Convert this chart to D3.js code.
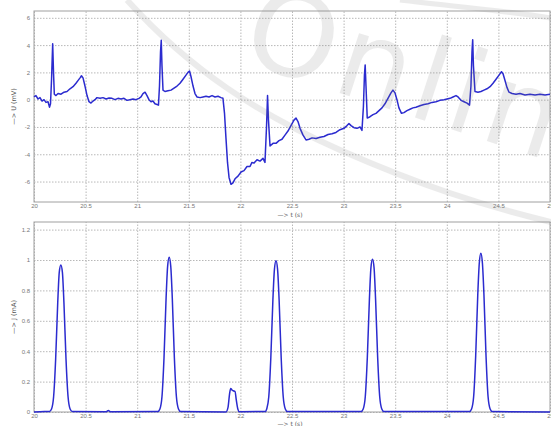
<!DOCTYPE html>
<html>
<head>
<meta charset="utf-8">
<script src="https://cdn.jsdelivr.net/npm/d3@7"></script>
<style>
  body { margin: 0; background: #fff; }
  svg { display: block; font-family: "DejaVu Sans", sans-serif; }
  .grid line { stroke: #b8b8b8; stroke-dasharray: 1.5,1.5; }
  .grid path { stroke: none; }
  .lbl text { font-size: 6px; fill: #777; }
  .lbl line, .lbl path { stroke: none; }
</style>
</head>
<body>
<svg id="chart" width="551" height="426"></svg>
<script>
// tick labels
var tTicks = [20, 20.5, 21, 21.5, 22, 22.5, 23, 23.5, 24, 24.5, 25]
var uTicks = [-6, -4, -2, 0, 2, 4, 6]
var jTicks = [0, 0.2, 0.4, 0.6, 0.8, 1, 1.2]

// top trace: U (mV) against t (s)
var ecgT = [20.000,20.019,20.039,20.058,20.078,20.097,20.116,20.136,20.150,20.160,20.170,20.181,20.189,20.197,
  20.213,20.233,20.262,20.291,20.320,20.349,20.378,20.407,20.426,20.446,20.460,20.475,20.494,20.514,20.533,
  20.552,20.572,20.591,20.610,20.640,20.669,20.698,20.727,20.756,20.785,20.814,20.843,20.872,20.901,20.930,
  20.959,20.988,21.017,21.037,21.056,21.076,21.095,21.114,21.134,21.153,21.172,21.192,21.206,21.216,21.226,
  21.233,21.240,21.250,21.269,21.298,21.328,21.357,21.386,21.415,21.444,21.473,21.492,21.507,21.521,21.541,
  21.560,21.579,21.609,21.638,21.667,21.696,21.725,21.754,21.783,21.812,21.831,21.846,21.860,21.875,21.890,
  21.909,21.928,21.948,21.977,22.006,22.035,22.064,22.093,22.112,22.132,22.161,22.190,22.219,22.238,22.253,
  22.263,22.272,22.287,22.316,22.345,22.374,22.403,22.432,22.461,22.490,22.519,22.539,22.558,22.578,22.607,
  22.636,22.665,22.694,22.733,22.771,22.810,22.849,22.888,22.926,22.965,23.004,23.033,23.052,23.072,23.101,
  23.130,23.159,23.178,23.192,23.202,23.209,23.217,23.229,23.256,23.285,23.314,23.343,23.372,23.401,23.430,
  23.459,23.478,23.498,23.517,23.536,23.561,23.585,23.614,23.643,23.672,23.701,23.740,23.779,23.818,23.857,
  23.895,23.934,23.973,24.002,24.031,24.060,24.089,24.109,24.138,24.167,24.196,24.220,24.234,24.244,24.251,
  24.258,24.273,24.302,24.331,24.360,24.389,24.419,24.448,24.477,24.506,24.530,24.545,24.564,24.583,24.603,
  24.632,24.671,24.709,24.758,24.806,24.855,24.903,24.952,25.000]
var ecgU = [0.2,0.3,0.05,0.15,-0.1,0.0,-0.2,-0.15,-0.55,-0.3,1.5,4.1,2.0,0.4,
  0.3,0.45,0.4,0.55,0.6,0.8,0.95,1.2,1.4,1.6,1.75,1.6,1.0,0.3,-0.15,
  -0.25,-0.1,0.0,0.15,0.1,0.15,0.05,0.12,0.1,0.0,0.1,0.05,0.1,-0.05,0.0,
  0.05,0.0,0.1,0.2,0.45,0.55,0.3,0.0,-0.15,-0.1,-0.3,-0.35,-0.4,1.0,3.5,
  4.35,2.5,0.7,0.6,0.65,0.7,0.85,1.0,1.2,1.5,1.8,2.0,2.1,1.7,1.0,
  0.45,0.2,0.15,0.2,0.25,0.2,0.3,0.2,0.25,0.15,0.1,-1.0,-2.8,-4.6,-5.7,
  -6.2,-6.1,-5.8,-5.6,-5.3,-5.2,-4.9,-4.9,-4.6,-4.65,-4.4,-4.5,-4.3,-4.6,-2.0,
  0.3,-1.5,-3.4,-3.2,-3.2,-3.0,-2.9,-2.6,-2.3,-1.9,-1.5,-1.35,-1.6,-2.1,-2.6,
  -2.95,-2.9,-2.8,-2.85,-2.75,-2.7,-2.55,-2.5,-2.4,-2.2,-2.1,-1.9,-1.75,-1.9,-2.05,
  -2.1,-2.0,-2.25,-0.5,1.8,2.55,1.0,-1.35,-1.25,-1.1,-1.0,-0.8,-0.6,-0.3,0.1,
  0.5,0.7,0.5,0.0,-0.6,-1.0,-0.95,-0.8,-0.7,-0.6,-0.55,-0.45,-0.35,-0.3,-0.2,
  -0.15,-0.05,0.0,0.05,0.1,0.2,0.3,0.2,-0.05,-0.15,-0.25,-0.4,1.0,3.5,4.4,
  2.5,0.6,0.55,0.6,0.7,0.8,0.95,1.2,1.5,1.8,2.05,1.9,1.4,0.9,0.55,
  0.45,0.4,0.45,0.35,0.4,0.35,0.4,0.35,0.4]

// bottom trace: J against t (s)
var jT = [20.00,20.10,20.15,20.17,20.19,20.21,20.23,20.245,20.26,20.275,20.29,20.31,20.33,20.35,20.37,
  20.70,20.72,20.74,
  21.20,21.22,21.24,21.26,21.28,21.295,21.31,21.325,21.34,21.36,21.38,21.40,21.42,
  21.86,21.88,21.895,21.906,21.918,21.93,21.948,21.96,21.975,21.99,
  22.24,22.255,22.275,22.295,22.315,22.33,22.345,22.36,22.375,22.395,22.415,22.435,22.455,
  23.17,23.19,23.21,23.23,23.25,23.265,23.28,23.295,23.31,23.33,23.35,23.37,23.39,
  24.22,24.24,24.26,24.28,24.30,24.315,24.33,24.345,24.36,24.38,24.40,24.42,24.44,
  25.00]
var jV = [0,0.003,0.004,0.02,0.1,0.35,0.72,0.92,0.967,0.92,0.72,0.35,0.1,0.02,0.004,
  0.002,0.01,0.002,
  0.003,0.02,0.1,0.36,0.75,0.96,1.018,0.96,0.75,0.36,0.1,0.02,0.003,
  0.0,0.03,0.12,0.155,0.145,0.14,0.135,0.08,0.02,0.002,
  0.003,0.02,0.1,0.36,0.74,0.94,0.995,0.94,0.74,0.36,0.1,0.02,0.003,
  0.003,0.02,0.1,0.36,0.74,0.95,1.005,0.95,0.74,0.36,0.1,0.02,0.003,
  0.003,0.02,0.1,0.37,0.77,0.98,1.044,0.98,0.77,0.37,0.1,0.02,0.003,
  0.0]

var svg = d3.select("#chart")
var lineColor = "#2b2bcf"
var left = 34, right = 550

var x = d3.scaleLinear().domain([20, 25]).range([left, right])
var yU = d3.scaleLinear().domain([-7.5, 6.5]).range([202, 11])
var yJ = d3.scaleLinear().domain([0, 1.25]).range([412, 222])

function fmt(d) { return String(d) }

function panel(y, yTicks, yLabel, top, bottom, labelGap) {
    var g = svg.append("g")
    var h = bottom - top

    // grid
    g.append("g").attr("class", "grid")
        .attr("transform", "translate(0," + bottom + ")")
        .call(d3.axisBottom(x).tickValues(tTicks).tickSize(-h).tickFormat(""))
    g.append("g").attr("class", "grid")
        .attr("transform", "translate(" + left + ",0)")
        .call(d3.axisLeft(y).tickValues(yTicks).tickSize(-(right - left)).tickFormat(""))

    // box
    g.append("rect")
        .attr("x", left).attr("y", top)
        .attr("width", right - left).attr("height", h)
        .attr("fill", "none").attr("stroke", "#a0a0a0").attr("stroke-width", 1)

    // tick labels
    g.append("g").attr("class", "lbl")
        .attr("transform", "translate(0," + bottom + ")")
        .call(d3.axisBottom(x).tickValues(tTicks).tickSize(0).tickPadding(2).tickFormat(fmt))
    g.append("g").attr("class", "lbl")
        .attr("transform", "translate(" + left + ",0)")
        .call(d3.axisLeft(y).tickValues(yTicks).tickSize(0).tickPadding(4).tickFormat(fmt))

    g.append("text")
        .attr("x", 290).attr("y", bottom + labelGap)
        .attr("text-anchor", "middle")
        .attr("font-size", 6).attr("fill", "#555")
        .text("\u2014> t (s)")

    g.append("text")
        .attr("transform", "translate(16," + ((top + bottom) / 2) + ") rotate(-90)")
        .attr("text-anchor", "middle")
        .attr("font-size", 6.5).attr("fill", "#555")
        .text(yLabel)
    return g
}

var gTop = panel(yU, uTicks, "\u2014> U (mV)", 11, 202, 15)
var gBot = panel(yJ, jTicks, "\u2014> J (mA)", 222, 412, 13.5)

var ecg = ecgT.map(function(t, i) { return [t, ecgU[i]] })
var jd = jT.map(function(t, i) { return [t, jV[i]] })

gTop.append("path")
    .datum(ecg)
    .attr("fill", "none")
    .attr("stroke", lineColor)
    .attr("stroke-width", 1.5)
    .attr("stroke-linejoin", "round")
    .attr("d", d3.line().x(function(d) { return x(d[0]) }).y(function(d) { return yU(d[1]) }))

gBot.append("path")
    .datum(jd)
    .attr("fill", "none")
    .attr("stroke", lineColor)
    .attr("stroke-width", 1.5)
    .attr("d", d3.line().curve(d3.curveMonotoneX)
        .x(function(d) { return x(d[0]) }).y(function(d) { return yJ(d[1]) }))

// faint watermark over the top panel
var wm = svg.append("g").attr("opacity", 0.14)
wm.append("path")
    .attr("d", "M127,0 C190,70 260,115 340,150 C420,185 480,205 551,222")
    .attr("fill", "none").attr("stroke", "#777").attr("stroke-width", 6)
wm.append("path")
    .attr("d", "M400,0 C450,6 500,10 551,18")
    .attr("fill", "none").attr("stroke", "#777").attr("stroke-width", 5)
wm.append("text")
    .attr("transform", "translate(238,60) rotate(18)")
    .attr("font-size", 115)
    .attr("letter-spacing", 6)
    .attr("fill", "#777")
    .text("Online")
</script>
</body>
</html>
